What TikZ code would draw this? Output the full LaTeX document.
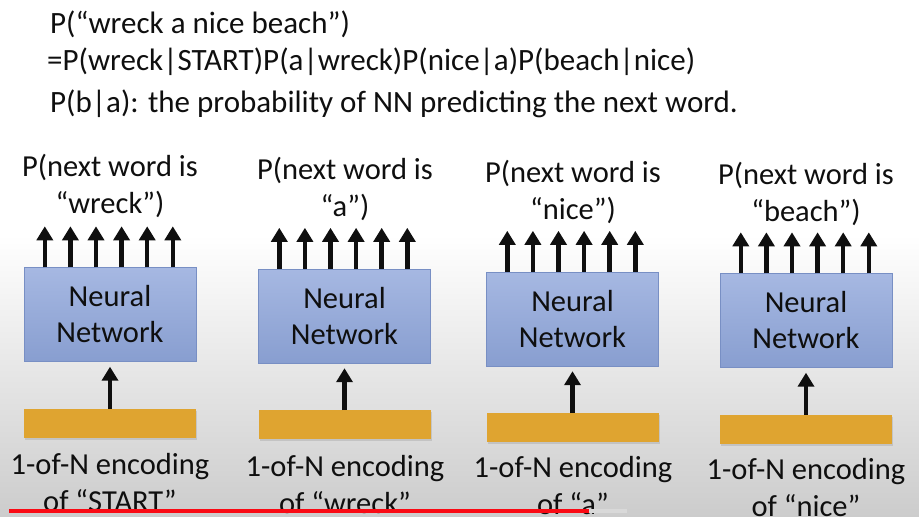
\documentclass[tikz,border=0pt]{standalone}
\usepackage{fontspec}
\setmainfont{Carlito}
\usetikzlibrary{arrows.meta, positioning, calc, shadows}
\definecolor{inkblack}{RGB}{15,15,15}
\definecolor{nntop}{RGB}{166,184,226}
\definecolor{nnbottom}{RGB}{136,158,208}
\definecolor{nnedge}{RGB}{120,143,196}
\definecolor{onehot}{RGB}{223,164,48}
\definecolor{screengray}{RGB}{204,204,204}
\definecolor{progressred}{RGB}{250,10,20}
\tikzset{
    network/.style={rectangle, draw=nnedge, thin, top color=nntop, bottom color=nnbottom, minimum width=172pt, minimum height=94pt, align=center, text=inkblack, font=\fontsize{30.5}{36}\selectfont},
    encoding/.style={rectangle, fill=onehot, minimum width=172pt, minimum height=29pt, drop shadow={shadow xshift=1pt, shadow yshift=-2pt, opacity=0.25}},
    wordtext/.style={align=center, inner sep=0pt, text=inkblack, font=\fontsize{30.5}{37}\selectfont},
    formula/.style={anchor=base west, inner sep=0pt, text=inkblack, font=\fontsize{31}{36}\selectfont},
    outarrow/.style={-{Triangle[width=16pt,length=14pt]}, line width=4.5pt, inkblack},
    inarrow/.style={-{Triangle[width=16pt,length=14pt]}, line width=4.5pt, inkblack, shorten >=5pt},
}
\begin{document}
\begin{tikzpicture}[x=1pt, y=-1pt]
    % screen
    \useasboundingbox (0,0) rectangle (919,517);
    \fill[white] (0,0) rectangle (919,517);
    \shade[top color=white, middle color=screengray!45, bottom color=screengray] (0,235) rectangle (919,517);

    % chain rule
    \node[formula] (whole) at (50,33) {P(“wreck a nice beach”)};
    \node[formula] (chain) at (47,70) {=P(wreck|START)P(a|wreck)P(nice|a)P(beach|nice)};
    \node[formula] (note) at (50,112) {P(b|a): the probability of NN predicting the next word.};

    % four time steps
    \node[network] (nn1) at (110,314.5) {Neural\\Network};
    \node[network] (nn2) at (344.5,316) {Neural\\Network};
    \node[network] (nn3) at (572.5,319) {Neural\\Network};
    \node[network] (nn4) at (806,320.5) {Neural\\Network};

    \node[encoding, below=47pt of nn1] (enc1) {};
    \node[encoding, below=47pt of nn2] (enc2) {};
    \node[encoding, below=47pt of nn3] (enc3) {};
    \node[encoding, below=47pt of nn4] (enc4) {};

    \node[wordtext] (next1) at (110,186) {P(next word is\\“wreck”)};
    \node[wordtext] (next2) at (345,189) {P(next word is\\“a”)};
    \node[wordtext] (next3) at (573,192) {P(next word is\\“nice”)};
    \node[wordtext] (next4) at (806,194) {P(next word is\\“beach”)};

    \node[wordtext] (in1) at (110,483) {1-of-N encoding\\of “START”};
    \node[wordtext] (in2) at (345,485) {1-of-N encoding\\of “wreck”};
    \node[wordtext] (in3) at (573,486) {1-of-N encoding\\of “a”};
    \node[wordtext] (in4) at (806,488) {1-of-N encoding\\of “nice”};

    \foreach \c in {1,...,4} {
        \draw[inarrow] (enc\c) -- (nn\c);
        \foreach \k in {0,...,5} {
            \coordinate (out\c-\k) at ($(nn\c.north west)+(21+25.6*\k,-41)$);
            \draw[outarrow] (out\c-\k |- nn\c.north) -- (out\c-\k);
        }
    }

    % player bar
    \draw[line width=4pt, white!85!black] (589,511) -- (627,511);
    \draw[line width=4pt, progressred] (9,511) -- (589,511);
\end{tikzpicture}
\end{document}
